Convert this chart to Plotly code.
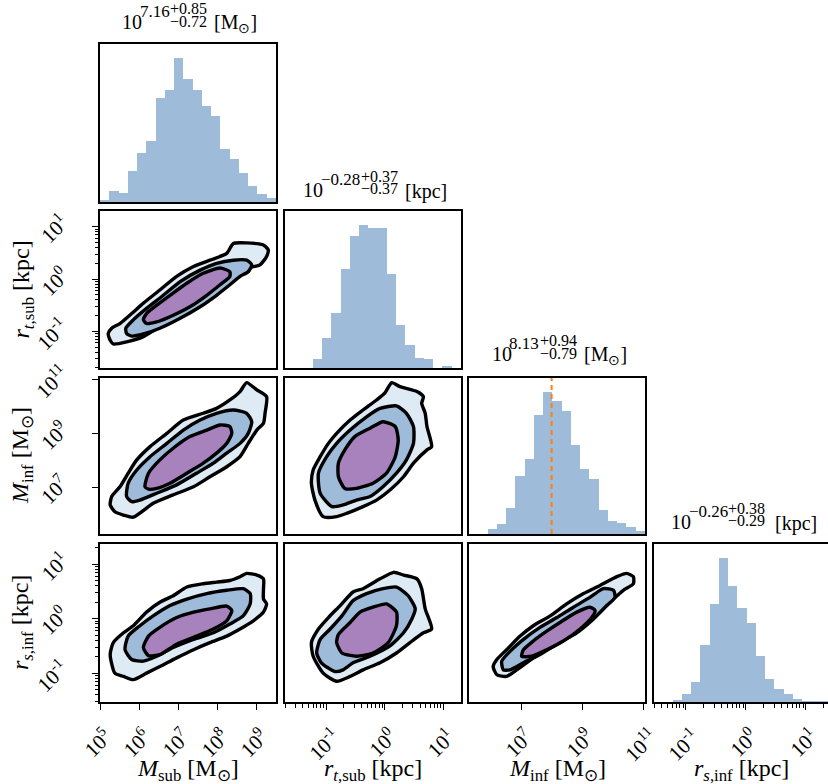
import math
import plotly.graph_objects as go

W, H = 828, 784

# ---------------- data ----------------
param_labels = [
    "<i>M</i><sub>sub</sub> [M<sub>⊙</sub>]",
    "<i>r</i><sub><i>t</i>,sub</sub> [kpc]",
    "<i>M</i><sub>inf</sub> [M<sub>⊙</sub>]",
    "<i>r</i><sub><i>s</i>,inf</sub> [kpc]",
]
log_ranges = [[5.0, 9.5], [-1.7, 1.3], [5.3, 11.05], [-1.53, 1.37]]
hist_ranges = [[5.0, 9.5], [-1.7, 1.3], [5.3, 11.05], [-1.53, 1.40]]
major_ticks = [[5, 6, 7, 8, 9], [-1, 0, 1], [7, 9, 11], [-1, 0, 1]]
minor_ticks_on = [False, True, False, True]
title_median = ["7.16", "−0.28", "8.13", "−0.26"]
title_plus = ["+0.85", "+0.37", "+0.94", "+0.38"]
title_minus = ["−0.72", "−0.37", "−0.79", "−0.29"]
title_units = ["[M<sub>⊙</sub>]", "[kpc]", "[M<sub>⊙</sub>]", "[kpc]"]
truths = [None, None, 8.0, None]

hist_msub = [4, 34, 26, 94, 148, 184, 310, 335, 430, 367, 335, 286, 256, 160, 130, 86, 47, 23, 13]
hist_rtsub = [0, 0, 0, 28, 90, 165, 298, 397, 430, 422, 422, 283, 130, 68, 30, 28, 0, 4, 0]
hist_minf = [0, 0, 15, 31, 78, 176, 225, 357, 427, 399, 370, 267, 196, 165, 72, 39, 32, 21, 10]
hist_rsinf = [0, 0, 5, 25, 60, 171, 294, 429, 345, 280, 237, 138, 69, 39, 25, 9, 3, 2, 2]
hists = [hist_msub, hist_rtsub, hist_minf, hist_rsinf]

# contour outlines (log10 units), levels 1 (outer) .. 3 (inner)
c_msub_rtsub_1 = [[5.26,-1.17],[5.21,-1.04],[5.30,-0.94],[5.51,-0.85],[5.81,-0.66],[6.11,-0.46],[6.53,-0.21],[6.96,0.05],[7.39,0.24],[7.81,0.36],[8.24,0.49],[8.41,0.68],[8.75,0.69],[9.18,0.65],[9.30,0.56],[9.26,0.43],[9.09,0.27],[8.79,0.21],[8.58,0.08],[8.32,-0.08],[7.98,-0.24],[7.56,-0.46],[7.05,-0.69],[6.53,-0.91],[6.11,-1.10],[5.68,-1.20],[5.34,-1.24]]
c_msub_rtsub_2 = [[5.68,-1.04],[5.66,-0.94],[5.85,-0.78],[6.19,-0.56],[6.62,-0.31],[7.05,-0.05],[7.56,0.17],[7.98,0.30],[8.41,0.36],[8.75,0.36],[8.88,0.27],[8.79,0.14],[8.58,0.05],[8.32,-0.11],[7.98,-0.31],[7.56,-0.53],[7.05,-0.75],[6.53,-0.94],[6.11,-1.05],[5.81,-1.09]]
c_msub_rtsub_3 = [[6.11,-0.78],[6.19,-0.66],[6.45,-0.50],[6.79,-0.31],[7.22,-0.08],[7.64,0.11],[8.07,0.21],[8.32,0.14],[8.32,0.05],[8.07,-0.11],[7.73,-0.31],[7.30,-0.53],[6.79,-0.72],[6.45,-0.82],[6.19,-0.85]]

c_msub_minf_1 = [[5.26,6.37],[5.30,6.68],[5.51,7.04],[5.72,7.54],[5.94,8.03],[6.28,8.52],[6.71,9.01],[7.13,9.50],[7.64,9.75],[7.98,9.93],[8.32,10.24],[8.58,10.55],[8.75,10.88],[9.01,10.61],[9.26,10.36],[9.22,9.75],[9.18,9.38],[9.01,9.13],[8.79,8.64],[8.58,8.15],[8.24,7.78],[7.81,7.41],[7.39,7.04],[6.87,6.74],[6.36,6.43],[5.85,5.92],[5.60,6.00],[5.38,6.12]]
c_msub_minf_2 = [[5.68,6.68],[5.72,7.17],[5.94,7.66],[6.28,8.15],[6.71,8.64],[7.13,9.13],[7.56,9.50],[7.98,9.75],[8.41,9.87],[8.75,9.75],[8.88,9.44],[8.79,9.01],[8.58,8.64],[8.24,8.28],[7.90,7.91],[7.47,7.54],[6.96,7.11],[6.45,6.80],[6.02,6.55],[5.81,6.49]]
c_msub_minf_3 = [[6.15,7.04],[6.24,7.54],[6.53,8.03],[6.87,8.46],[7.30,8.89],[7.73,9.13],[8.07,9.32],[8.32,9.26],[8.37,9.01],[8.24,8.64],[7.98,8.28],[7.64,7.91],[7.22,7.54],[6.79,7.17],[6.45,6.98],[6.24,6.95]]

c_msub_rsinf_1 = [[5.26,-0.66],[5.34,-0.44],[5.60,-0.26],[5.85,-0.13],[6.19,0.12],[6.53,0.30],[6.87,0.42],[7.22,0.58],[7.64,0.64],[7.98,0.67],[8.32,0.70],[8.58,0.77],[8.75,0.83],[9.01,0.80],[9.18,0.73],[9.18,0.55],[9.18,0.36],[9.26,0.27],[9.18,0.12],[8.92,-0.04],[8.58,-0.19],[8.24,-0.32],[7.81,-0.44],[7.39,-0.57],[6.96,-0.72],[6.53,-0.88],[6.19,-1.00],[5.85,-1.12],[5.60,-1.06],[5.38,-1.00]]
c_msub_rsinf_2 = [[5.64,-0.57],[5.72,-0.32],[6.02,-0.13],[6.36,0.05],[6.79,0.24],[7.22,0.36],[7.73,0.46],[8.24,0.52],[8.66,0.55],[8.84,0.46],[8.84,0.27],[8.66,0.05],[8.32,-0.10],[7.90,-0.26],[7.39,-0.38],[6.87,-0.53],[6.45,-0.69],[6.11,-0.78],[5.81,-0.75]]
c_msub_rsinf_3 = [[6.11,-0.53],[6.24,-0.32],[6.53,-0.16],[6.96,0.02],[7.39,0.12],[7.81,0.18],[8.24,0.23],[8.37,0.15],[8.24,-0.04],[7.90,-0.19],[7.47,-0.32],[6.96,-0.47],[6.53,-0.66],[6.24,-0.68]]

c_rtsub_minf_1 = [[-1.05,5.94],[-1.19,6.55],[-1.25,7.17],[-1.22,7.66],[-1.10,8.15],[-0.96,8.64],[-0.82,9.01],[-0.59,9.50],[-0.37,9.87],[-0.14,10.24],[0.00,10.49],[0.12,10.88],[0.26,10.73],[0.55,10.55],[0.66,10.36],[0.63,10.12],[0.69,9.75],[0.72,9.26],[0.80,8.52],[0.72,8.40],[0.49,7.91],[0.32,7.41],[0.09,6.92],[-0.14,6.55],[-0.37,6.31],[-0.65,6.06],[-0.82,5.94]]
c_rtsub_minf_2 = [[-0.90,6.31],[-1.10,6.80],[-1.13,7.54],[-0.99,8.15],[-0.82,8.64],[-0.59,9.13],[-0.31,9.62],[-0.08,9.93],[0.20,10.02],[0.37,9.75],[0.49,9.26],[0.49,8.64],[0.37,8.03],[0.20,7.54],[-0.03,7.04],[-0.25,6.68],[-0.48,6.55],[-0.71,6.37]]
c_rtsub_minf_3 = [[-0.68,6.98],[-0.79,7.41],[-0.79,7.91],[-0.68,8.40],[-0.51,8.89],[-0.25,9.20],[-0.03,9.44],[0.18,9.26],[0.23,8.77],[0.18,8.15],[0.03,7.54],[-0.20,7.17],[-0.48,6.98]]

c_rtsub_rsinf_1 = [[-0.82,-1.15],[-1.05,-1.00],[-1.22,-0.69],[-1.25,-0.44],[-1.13,-0.19],[-0.96,0.02],[-0.76,0.24],[-0.54,0.49],[-0.37,0.55],[-0.08,0.73],[0.15,0.85],[0.32,0.80],[0.55,0.73],[0.63,0.55],[0.69,0.18],[0.80,-0.19],[0.66,-0.26],[0.43,-0.44],[0.20,-0.63],[-0.08,-0.81],[-0.37,-0.94],[-0.59,-1.06]]
c_rtsub_rsinf_2 = [[-0.85,-0.97],[-1.08,-0.81],[-1.16,-0.63],[-1.10,-0.38],[-0.93,-0.19],[-0.73,0.05],[-0.54,0.33],[-0.31,0.46],[-0.03,0.55],[0.20,0.58],[0.40,0.42],[0.52,0.18],[0.46,-0.01],[0.32,-0.26],[0.09,-0.50],[-0.25,-0.69],[-0.54,-0.81],[-0.71,-0.94]]
c_rtsub_rsinf_3 = [[-0.73,-0.63],[-0.82,-0.44],[-0.79,-0.29],[-0.59,-0.07],[-0.42,0.12],[-0.20,0.21],[0.03,0.27],[0.20,0.12],[0.20,-0.13],[0.06,-0.44],[-0.20,-0.63],[-0.48,-0.69]]

c_minf_rsinf_1 = [[6.21,-1.03],[6.09,-0.88],[6.21,-0.75],[6.53,-0.57],[6.97,-0.32],[7.40,-0.13],[7.95,0.05],[8.49,0.27],[9.04,0.46],[9.58,0.61],[10.13,0.77],[10.45,0.83],[10.67,0.77],[10.67,0.64],[10.34,0.52],[10.02,0.36],[9.58,0.12],[9.04,-0.13],[8.49,-0.32],[7.95,-0.50],[7.40,-0.72],[6.86,-0.94],[6.53,-1.06]]
c_minf_rsinf_2 = [[6.42,-0.94],[6.37,-0.78],[6.64,-0.60],[7.08,-0.38],[7.62,-0.16],[8.17,0.02],[8.71,0.21],[9.25,0.39],[9.69,0.55],[10.02,0.52],[10.07,0.39],[9.80,0.24],[9.36,-0.01],[8.82,-0.26],[8.17,-0.47],[7.62,-0.66],[7.08,-0.81],[6.64,-0.94]]
c_minf_rsinf_3 = [[7.02,-0.69],[7.08,-0.57],[7.40,-0.41],[7.84,-0.23],[8.27,-0.07],[8.82,0.12],[9.25,0.21],[9.42,0.15],[9.31,0.02],[8.93,-0.19],[8.38,-0.41],[7.84,-0.57],[7.35,-0.69]]

contours = {
    (1, 0): [c_msub_rtsub_1, c_msub_rtsub_2, c_msub_rtsub_3],
    (2, 0): [c_msub_minf_1, c_msub_minf_2, c_msub_minf_3],
    (3, 0): [c_msub_rsinf_1, c_msub_rsinf_2, c_msub_rsinf_3],
    (2, 1): [c_rtsub_minf_1, c_rtsub_minf_2, c_rtsub_minf_3],
    (3, 1): [c_rtsub_rsinf_1, c_rtsub_rsinf_2, c_rtsub_rsinf_3],
    (3, 2): [c_minf_rsinf_1, c_minf_rsinf_2, c_minf_rsinf_3],
}

# ---------------- style / layout (window pixel positions) ----------------
FONT = "Liberation Serif, Times New Roman, serif"
HIST_COLOR = "#9ebcda"
LEVEL_COLORS = ["#deebf4", "#9ebcda", "#a882bd"]
TRUTH_COLOR = "#ff7f0e"
cols_px = [(100, 276), (285, 461), (469, 645), (654, 828)]
rows_px = [(44, 202), (211, 368), (378, 534), (544, 702)]
# title pieces: x of "10", x of exponent, x of stacked errors, x of unit, y centre of "10"
title_x10 = [120, 300.5, 490, 669]
title_xexp = [137.5, 318.5, 507, 687]
title_xstack = [168, 359, 537.5, 726]
title_xunit = [212, 403, 582, 773]
title_y = [22, 189.5, 354, 521.5]
XTICKLABEL_TOP = 720      # anchor (top of unrotated box) of x tick labels (window px)
YTICKLABEL_RIGHT = 76     # anchor (right of unrotated box) of y tick labels (window px)
TICKFONT = dict(family=FONT, size=21, color="black")


def px(x):
    return x / W


def py(y):
    return 1 - y / H


def minor_vals(lo, hi):
    out = []
    for n in range(math.floor(lo), math.ceil(hi) + 1):
        for k in range(2, 10):
            v = n + math.log10(k)
            if lo <= v <= hi:
                out.append(v)
    return out


fig = go.Figure()
layout = dict(
    width=W, height=H,
    margin=dict(l=0, r=0, t=0, b=0, autoexpand=False),
    paper_bgcolor="white", plot_bgcolor="white",
    showlegend=False,
    font=dict(family=FONT, color="black", size=18),
)
annotations = []

k = 0
for r in range(4):
    for c in range(r + 1):
        k += 1
        xname = "x" if k == 1 else f"x{k}"
        yname = "y" if k == 1 else f"y{k}"
        xkey = "xaxis" if k == 1 else f"xaxis{k}"
        ykey = "yaxis" if k == 1 else f"yaxis{k}"
        x0, x1 = cols_px[c]
        y0, y1 = rows_px[r]
        bottom = (r == 3)
        xa = dict(
            domain=[px(x0), min(1.0, px(x1))], anchor=yname, range=log_ranges[c], automargin=False,
            showline=True, mirror=True, linecolor="black", linewidth=2,
            showgrid=False, zeroline=False, fixedrange=True,
            ticks="outside" if bottom else "", ticklen=6, tickwidth=1.3, tickcolor="black",
            tickmode="array", tickvals=major_ticks[c], showticklabels=False,
        )
        if bottom:
            if minor_ticks_on[c]:
                xa["minor"] = dict(tickmode="array", tickvals=minor_vals(*log_ranges[c]),
                                   ticks="outside", ticklen=3.5, tickwidth=1, tickcolor="black")
            for v in major_ticks[c]:
                annotations.append(dict(text=f"10<sup>{v}</sup>", x=v, xref=xname, y=py(XTICKLABEL_TOP),
                                        yref="paper", xanchor="center", yanchor="top", textangle=-45,
                                        xshift=-3, font=TICKFONT))
        if r == c:
            counts = hists[c]
            ya = dict(
                domain=[py(y1), py(y0)], anchor=xname, range=[0, 1.1 * max(counts)], automargin=False,
                showline=True, mirror=(c != 3), linecolor="black", linewidth=2,
                showgrid=False, zeroline=False, ticks="", showticklabels=False, fixedrange=True,
            )
            lo, hi = hist_ranges[c]
            n = len(counts)
            bw = (hi - lo) / n
            centers = [lo + (i + 0.5) * bw for i in range(n)]
            fig.add_trace(go.Bar(x=centers, y=counts, width=bw, marker=dict(color=HIST_COLOR, line=dict(width=0)),
                                 xaxis=xname, yaxis=yname, hoverinfo="skip"))
            if truths[c] is not None:
                fig.add_trace(go.Scatter(x=[truths[c], truths[c]], y=[0, 1.1 * max(counts)], mode="lines",
                                         line=dict(color=TRUTH_COLOR, width=2, dash="5px,4px"),
                                         xaxis=xname, yaxis=yname, hoverinfo="skip"))
            # title pieces
            ty = title_y[c]
            annotations.append(dict(text="10", x=px(title_x10[c]), y=py(ty), xanchor="left", yanchor="middle",
                                    font=dict(family=FONT, size=20)))
            annotations.append(dict(text=title_median[c], x=px(title_xexp[c]), y=py(ty - 10), xanchor="left",
                                    yanchor="middle", font=dict(family=FONT, size=17)))
            annotations.append(dict(text=title_plus[c], x=px(title_xstack[c]), y=py(ty - 13.5), xanchor="left",
                                    yanchor="middle", font=dict(family=FONT, size=16)))
            annotations.append(dict(text=title_minus[c], x=px(title_xstack[c]), y=py(ty - 1), xanchor="left",
                                    yanchor="middle", font=dict(family=FONT, size=16)))
            annotations.append(dict(text=title_units[c], x=px(title_xunit[c]), y=py(ty + 1.5), xanchor="left",
                                    yanchor="middle", font=dict(family=FONT, size=20)))
        else:
            left = (c == 0)
            ya = dict(
                domain=[py(y1), py(y0)], anchor=xname, range=log_ranges[r], automargin=False,
                showline=True, mirror=True, linecolor="black", linewidth=2,
                showgrid=False, zeroline=False, fixedrange=True,
                ticks="outside" if left else "", ticklen=6, tickwidth=1.3, tickcolor="black",
                tickmode="array", tickvals=major_ticks[r], showticklabels=False,
            )
            if left:
                if minor_ticks_on[r]:
                    ya["minor"] = dict(tickmode="array", tickvals=minor_vals(*log_ranges[r]),
                                       ticks="outside", ticklen=3.5, tickwidth=1, tickcolor="black")
                for v in major_ticks[r]:
                    annotations.append(dict(text=f"10<sup>{v}</sup>", x=px(YTICKLABEL_RIGHT), xref="paper",
                                            y=v, yref=yname, xanchor="right", yanchor="middle", textangle=-45,
                                            yshift=-2, font=TICKFONT))
            for lvl, poly in enumerate(contours[(r, c)]):
                xs = [p[0] for p in poly] + [poly[0][0]]
                ys = [p[1] for p in poly] + [poly[0][1]]
                fig.add_trace(go.Scatter(x=xs, y=ys, mode="lines", fill="toself",
                                         fillcolor=LEVEL_COLORS[lvl],
                                         line=dict(color="black", width=3.4, shape="spline", smoothing=0.6),
                                         xaxis=xname, yaxis=yname, hoverinfo="skip"))
        layout[xkey] = xa
        layout[ykey] = ya

# axis labels
for c in range(4):
    x0, x1 = cols_px[c]
    annotations.append(dict(text=param_labels[c], x=px((x0 + x1) / 2), y=py(770), xanchor="center",
                            yanchor="middle", font=dict(family=FONT, size=24)))
for r in range(1, 4):
    y0, y1 = rows_px[r]
    annotations.append(dict(text=param_labels[r], x=px(22), y=py((y0 + y1) / 2), xanchor="center",
                            yanchor="middle", textangle=-90, font=dict(family=FONT, size=24)))

for a in annotations:
    a.setdefault("xref", "paper")
    a.setdefault("yref", "paper")
    a["showarrow"] = False
layout["annotations"] = annotations
layout["bargap"] = 0
fig.update_layout(**layout)
# remove the default 8px page margin so the figure fills the window from its corner
fig.write_html("out.html", config={"displayModeBar": False},
               post_script="document.body.style.margin='0px';")
